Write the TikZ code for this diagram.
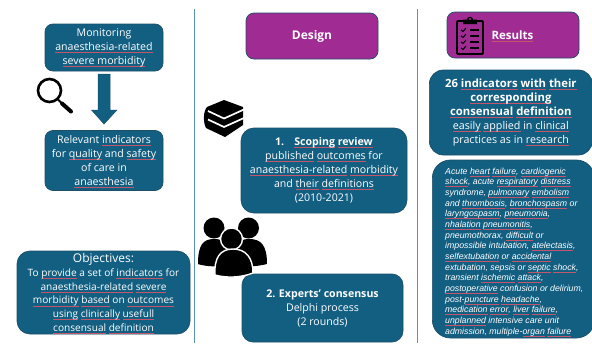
\documentclass[tikz,border=0pt]{standalone}
\usepackage{fontspec}
\setmainfont{Open Sans}
\newfontfamily\arialf{Liberation Sans}
\definecolor{tealbox}{HTML}{125F82}
\definecolor{tealedge}{HTML}{1D4F66}
\definecolor{purplebox}{HTML}{A02B93}
\definecolor{rulecol}{HTML}{5B8FBC}
\definecolor{squig}{HTML}{C4566C}
\newlength\sqw
\newcommand\sq[1]{\leavevmode\setbox0\hbox{#1}\sqw=\wd0\relax\tikz[overlay,baseline=0pt]\draw[squig,line width=.75pt] (0pt,-2pt)--(\sqw,-2pt);\box0{}}
\tikzset{
 x=1pt,y=-1pt,
 tealnode/.style={draw=tealedge,line width=.7pt,fill=tealbox,text=white,align=center,inner sep=0pt,font=\fontsize{10.6}{14}\selectfont},
 purplenode/.style={draw=tealedge,line width=.7pt,fill=purplebox,text=white,align=center,inner sep=0pt,rounded corners=8pt},
 sep/.style={draw=rulecol,line width=1.1pt},
 icon/.style={fill=black,draw=none},
}
\begin{document}
\begin{tikzpicture}
\useasboundingbox (0,0) rectangle (592,343);
\coordinate (s1t) at (194.5,9); \coordinate (s1b) at (194.5,343);
\coordinate (s2t) at (417.5,9); \coordinate (s2b) at (417.5,343);
\draw[sep] (s1t)--(s1b);
\draw[sep] (s2t)--(s2b);
% left
\node[tealnode,rounded corners=8pt,minimum width=118pt,minimum height=47pt] (mon) at (104,47.5) {Monitoring\\\sq{anaesthesia-related}\\\sq{severe morbidity}};
\node[tealnode,rounded corners=8pt,minimum width=118pt,minimum height=60pt] (rel) at (104,160.5) {Relevant \sq{indicators}\\for \sq{quality} and \sq{safety}\\of care in\\\sq{anaesthesia}};
\fill[tealbox,draw=tealedge,line width=.5pt] (98,74)--(110,74)--(110,110)--(117,110)--(104,124)--(91.5,110)--(98,110)--cycle;
\node[tealnode,rounded corners=13pt,minimum width=173pt,minimum height=83pt,font=\fontsize{10.1}{13.8}\selectfont] (obj) at (103.5,292.5) {{\fontsize{12}{15}\selectfont Objectives:}\\To \sq{provide} a set of \sq{indicators} for\\\sq{anaesthesia-related} \sq{severe}\\\sq{morbidity} \sq{based} on \sq{outcomes}\\\sq{using} \sq{clinically} \sq{usefull}\\\sq{consensual} \sq{definition}};
% magnifier
\draw[black,line width=2.6pt] (49.5,90.5) circle (11.5);
\draw[black,line width=1.8pt] (57.5,99)--(62,103.5);
\draw[black,line width=4pt,line cap=round] (62,103.5)--(71,111.5);
% middle
\node[purplenode,minimum width=132pt,minimum height=46pt,font=\fontsize{12}{14}\selectfont\bfseries] (des) at (312,36) {Design};
\node[tealnode,rounded corners=13pt,minimum width=166pt,minimum height=85pt] (sco) at (324,170.5) {\textbf{1.\hspace{10pt}\sq{Scoping} \sq{review}}\\\sq{published} \sq{outcomes} for\\\sq{anaesthesia-related} \sq{morbidity}\\and \sq{their} \sq{definitions}\\(2010-2021)};
\node[tealnode,rounded corners=11pt,minimum width=161pt,minimum height=68pt] (exp) at (322.5,308) {\textbf{2. Experts’ consensus}\\Delphi process\\(2 rounds)};
% books
\fill[black,line join=round] (224,100)--(243,107)--(243,125)--(225,137)--(206,128) .. controls (203,122) and (203,112) .. (207,107)--cycle;
\foreach \dy in {0,8.5}{
 \draw[white,line width=1.7pt] (208,111+\dy)--(224,118.5+\dy)--(244,109.5+\dy);
}
% people
\fill[icon] (214,228) circle (10.5);
\fill[icon] (248.5,228) circle (10.5);
\fill[icon] (198,264) .. controls (198,245) and (203,239) .. (214,239) .. controls (226,239) and (232,245) .. (232,265) -- cycle;
\fill[icon] (232,265) .. controls (232,245) and (238,239) .. (249,239) .. controls (261,239) and (267,245) .. (267,264) .. controls (255,267) and (244,267) .. (232,265) -- cycle;
\fill[icon] (198,264) .. controls (207,267) and (220,267) .. (232,265) -- (220,252) -- cycle;
\fill[icon,draw=white,line width=1.4pt] (231.5,239) circle (11);
\fill[icon,draw=white,line width=1.4pt] (215,275) .. controls (214,258) and (220,249) .. (233,249) .. controls (246,249) and (253,258) .. (253,273) .. controls (240,278) and (226,278) .. (215,275) -- cycle;
% results
\node[purplenode,minimum width=132pt,minimum height=46pt] (res) at (513,35) {};
\node[text=white,font=\fontsize{11.5}{14}\selectfont\bfseries,inner sep=0pt,anchor=center] (restxt) at (512.5,35.5) {\sq{Results}};
\node[tealnode,rounded corners=14pt,minimum width=163pt,minimum height=85pt,anchor=west,font=\fontsize{10.7}{14}\selectfont] (ind) at (429,112.5) {\textbf{\fontsize{11.3}{14}\selectfont 26 \sq{indicators} \sq{with} \sq{their}}\\\textbf{\fontsize{11.3}{14}\selectfont\sq{corresponding}}\\\textbf{\fontsize{11.3}{14}\selectfont\sq{consensual} \sq{definition}}\\\sq{easily} \sq{applied} in \sq{clinical}\\practices as in \sq{research}};
\node[tealnode,rounded corners=18pt,minimum width=162pt,minimum height=178pt,anchor=west] (acu) at (432,249) {};
\node[anchor=north west,text=white,inner sep=0pt,align=left,font=\arialf\itshape\fontsize{8.75}{10.67}\selectfont] (acutxt) at (445,167.5) {Acute \sq{heart} \sq{failure}, \sq{cardiogenic}\\\sq{shock}, acute \sq{respiratory} \sq{distress}\\syndrome, \sq{pulmonary} \sq{embolism}\\and \sq{thrombosis}, \sq{bronchospasm} or\\\sq{laryngospasm}, \sq{pneumonia},\\\sq{nhalation} \sq{pneumonitis},\\pneumothorax, \sq{difficult} or\\impossible intubation, \sq{atelectasis},\\\sq{selfextubation} or \sq{accidental}\\extubation, sepsis or \sq{septic} \sq{shock},\\transient \sq{ischemic} \sq{attack},\\\sq{postoperative} confusion or delirium,\\post-\sq{puncture} \sq{headache},\\\sq{medication} \sq{error}, \sq{liver} \sq{failure},\\\sq{unplanned} intensive care unit\\admission, multiple-\sq{organ} \sq{failure}};
% clipboard
\draw[black,line width=1.8pt,rounded corners=1pt] (463,21)--(457,21)--(457,54)--(483,54)--(483,21)--(477,21);
\fill[black] (463,19.5)--(467,19.5) .. controls (467,16) and (473,16) .. (473,19.5) -- (477,19.5)--(477,24)--(463,24)--cycle;
\fill[purplebox] (470,19) circle (1.2);
\foreach \yy in {30,36,42,48}{
 \draw[black,line width=1pt] (461,\yy)--(463,\yy+1.5)--(466,\yy-2);
 \draw[black,line width=1.2pt] (470,\yy)--(479,\yy);
}
\end{tikzpicture}
\end{document}
